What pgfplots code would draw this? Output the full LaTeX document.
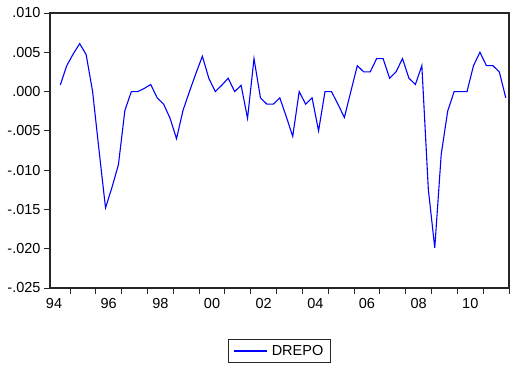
\documentclass[border=0pt]{standalone}
\usepackage{fontspec}
\setmainfont{Liberation Sans}
\usepackage{pgfplots}
\pgfplotsset{compat=1.18}
\usepackage{pgfplotstable}

% quarterly first difference of the repo rate, 1994Q3--2011Q4 (plotted at mid-quarter)
\pgfplotstableread{
t        drepo
1994.625  0.00085
1994.875  0.0033
1995.125  0.0048
1995.375  0.0061
1995.625  0.0047
1995.875  0.0000
1996.125 -0.0075
1996.375 -0.0148
1996.625 -0.0122
1996.875 -0.0093
1997.125 -0.0024
1997.375  0.0000
1997.625  0.0000
1997.875  0.0004
1998.125  0.0009
1998.375 -0.0008
1998.625 -0.0016
1998.875 -0.0034
1999.125 -0.0060
1999.375 -0.0024
1999.625  0.0000
1999.875  0.0023
2000.125  0.0045
2000.375  0.0017
2000.625  0.0000
2000.875  0.0008
2001.125  0.0017
2001.375  0.0000
2001.625  0.0008
2001.875 -0.0034
2002.125  0.0042
2002.375 -0.0008
2002.625 -0.0016
2002.875 -0.0016
2003.125 -0.0008
2003.375 -0.0032
2003.625 -0.0057
2003.875  0.0000
2004.125 -0.0016
2004.375 -0.0008
2004.625 -0.0050
2004.875  0.0000
2005.125  0.0000
2005.375 -0.0016
2005.625 -0.0033
2005.875  0.0000
2006.125  0.0033
2006.375  0.0025
2006.625  0.0025
2006.875  0.0042
2007.125  0.0042
2007.375  0.0017
2007.625  0.0025
2007.875  0.0042
2008.125  0.0017
2008.375  0.0009
2008.625  0.0033
2008.875 -0.0124
2009.125 -0.0199
2009.375 -0.0080
2009.625 -0.0025
2009.875  0.0000
2010.125  0.0000
2010.375  0.0000
2010.625  0.0033
2010.875  0.0050
2011.125  0.0033
2011.375  0.0033
2011.625  0.0025
2011.875 -0.0008
}\drepotable

\newcommand{\lblfont}{\fontsize{14.5bp}{17bp}\selectfont}

\begin{document}
\begin{tikzpicture}
\begin{axis}[
  at={(50bp,83bp)}, anchor=south west,
  scale only axis,
  width=459bp, height=275bp,
  xmin=1994.225, xmax=2012,
  ymin=-0.025, ymax=0.010,
  axis line style={black!85, line width=1.1bp},
  tick style={black!85, line width=0.9bp},
  tick align=outside,
  major tick length=6bp,
  xtick pos=bottom, ytick pos=left,
  xtick={1995,1996,...,2012},
  xticklabels={},
  extra x ticks={1994.38,1996.5,1998.5,2000.5,2002.5,2004.5,2006.5,2008.5,2010.5},
  extra x tick labels={94,96,98,00,02,04,06,08,10},
  extra x tick style={major tick length=0pt,
    xticklabel style={yshift=-7bp}},
  ytick={-0.025,-0.020,-0.015,-0.010,-0.005,0,0.005,0.010},
  yticklabels={-.025,-.020,-.015,-.010,-.005,.000,.005,.010},
  scaled y ticks=false,
  ticklabel style={font=\lblfont, text=black},
  legend style={
    at={(0.5,-0.229)}, anchor=center,
    draw=black!85, line width=0.8bp,
    font=\lblfont,
    inner xsep=5bp, inner ysep=4bp,
    /tikz/every odd column/.append style={column sep=2bp},
  },
  legend image code/.code={\draw[#1] (0bp,0bp) -- (33bp,0bp);},
]
\addplot[color={rgb,255:red,0;green,0;blue,255}, line width=1.1bp] table[x=t, y=drepo] {\drepotable};
\addlegendentry{DREPO}
\end{axis}
\pgfresetboundingbox
\path (0,0) rectangle (514bp,371bp);
\end{tikzpicture}
\end{document}
